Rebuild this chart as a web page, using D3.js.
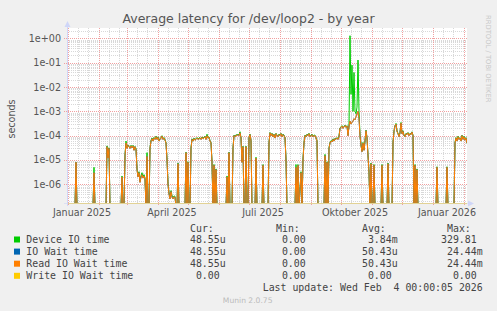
<!DOCTYPE html>
<html><head><meta charset="utf-8">
<script src="https://cdn.jsdelivr.net/npm/d3@7"></script>
<style>
body{margin:0;background:#f0f0f0}
svg{display:block}
text{white-space:pre}
</style></head><body>
<svg id="c" width="497" height="311"></svg>
<script>
// ---------------- data ----------------
const dates = [
"2024-12-31","2025-01-08","2025-01-09","2025-01-10","2025-01-26","2025-01-27","2025-01-28",
"2025-02-08","2025-02-09","2025-02-10","2025-02-11","2025-02-12","2025-02-23","2025-02-24","2025-02-25","2025-02-26","2025-02-27",
"2025-02-28","2025-03-01","2025-03-02","2025-03-03","2025-03-04","2025-03-05","2025-03-06","2025-03-07","2025-03-08","2025-03-09","2025-03-10",
"2025-03-11","2025-03-12","2025-03-13","2025-03-14","2025-03-15","2025-03-16","2025-03-17","2025-03-18","2025-03-19","2025-03-20","2025-03-21","2025-03-22",
"2025-03-23","2025-03-24","2025-03-25","2025-03-26","2025-03-27","2025-03-28","2025-03-29","2025-03-30","2025-03-31",
"2025-04-01","2025-04-02","2025-04-03","2025-04-04","2025-04-05","2025-04-06","2025-04-07","2025-04-08","2025-04-09","2025-04-10",
"2025-04-11","2025-04-12","2025-04-13","2025-04-14","2025-04-15","2025-04-16","2025-04-17","2025-04-18","2025-04-19","2025-04-20","2025-04-21","2025-04-22",
"2025-04-28","2025-04-29","2025-04-30","2025-05-01","2025-05-02","2025-05-03","2025-05-04",
"2025-05-05","2025-05-06","2025-05-07","2025-05-08","2025-05-09","2025-05-10","2025-05-11","2025-05-12","2025-05-13","2025-05-14","2025-05-15","2025-05-16","2025-05-17","2025-05-18","2025-05-19","2025-05-20","2025-05-21","2025-05-22","2025-05-23","2025-05-24",
"2025-05-25","2025-05-26","2025-05-27","2025-05-28","2025-05-29","2025-05-30","2025-06-08","2025-06-09","2025-06-10","2025-06-11","2025-06-12","2025-06-14","2025-06-15",
"2025-06-16","2025-06-17","2025-06-18","2025-06-19","2025-06-20","2025-06-21","2025-06-22","2025-06-23","2025-06-24","2025-06-25","2025-06-26","2025-06-27","2025-06-28","2025-06-29","2025-06-30",
"2025-07-01","2025-07-02","2025-07-03","2025-07-04","2025-07-07","2025-07-08","2025-07-09","2025-07-14","2025-07-15","2025-07-16","2025-07-20","2025-07-21",
"2025-07-22","2025-07-23","2025-07-24","2025-07-25","2025-07-26","2025-07-27","2025-07-28","2025-07-29","2025-07-30","2025-07-31","2025-08-01","2025-08-02","2025-08-03","2025-08-04","2025-08-05","2025-08-06","2025-08-07","2025-08-08",
"2025-08-16","2025-08-17","2025-08-18","2025-08-19","2025-08-20","2025-08-22","2025-08-23","2025-08-24","2025-08-25",
"2025-08-26","2025-08-27","2025-08-28","2025-08-29","2025-08-30","2025-08-31","2025-09-01","2025-09-02","2025-09-03","2025-09-04","2025-09-05","2025-09-06","2025-09-07","2025-09-08",
"2025-09-14","2025-09-15","2025-09-16","2025-09-17","2025-09-18","2025-09-19",
"2025-09-20","2025-09-21","2025-09-22","2025-09-23","2025-09-24","2025-09-25","2025-09-26","2025-09-27","2025-09-28","2025-09-29","2025-09-30",
"2025-10-01","2025-10-02","2025-10-03","2025-10-04","2025-10-05","2025-10-06","2025-10-07","2025-10-08","2025-10-09",
"2025-10-10","2025-10-11","2025-10-12","2025-10-13","2025-10-14","2025-10-15","2025-10-16","2025-10-17","2025-10-18","2025-10-19",
"2025-10-20","2025-10-21","2025-10-22","2025-10-23","2025-10-24","2025-10-25","2025-10-26","2025-10-27","2025-10-28","2025-10-29","2025-10-30","2025-10-31",
"2025-11-01","2025-11-02","2025-11-03","2025-11-04","2025-11-10","2025-11-11","2025-11-12","2025-11-16","2025-11-17","2025-11-18","2025-11-21",
"2025-11-22","2025-11-23","2025-11-24","2025-11-25","2025-11-26","2025-11-27","2025-11-28","2025-11-29","2025-11-30",
"2025-12-01","2025-12-02","2025-12-03","2025-12-04","2025-12-05","2025-12-06","2025-12-07","2025-12-08","2025-12-09","2025-12-10","2025-12-11","2025-12-12","2025-12-13","2025-12-14","2025-12-15","2025-12-16","2025-12-17",
"2026-01-04","2026-01-05","2026-01-06","2026-01-14","2026-01-15","2026-01-16","2026-01-22",
"2026-01-23","2026-01-24","2026-01-25","2026-01-26","2026-01-27","2026-01-28","2026-01-29","2026-01-30","2026-01-31","2026-02-01","2026-02-02","2026-02-03","2026-02-04"
];

const readWait = [
0,0,8e-6,0,0,3e-6,0,
0,3.5e-5,1.2e-5,3e-5,0,0,2e-6,0,0,1.5e-5,
5e-5,3e-5,4e-5,3.5e-5,3e-5,3.8e-5,3.2e-5,3.8e-5,2.5e-5,3.5e-5,2.8e-5,
4e-6,2e-6,3e-6,1.2e-6,2e-6,2.5e-6,1.8e-6,2.2e-6,1.6e-6,0,1.4e-5,0,
0,3e-5,6e-5,7.5e-5,6e-5,8e-5,7e-5,9e-5,7e-5,
8.5e-5,6e-5,7e-5,8e-5,9.5e-5,7e-5,8e-5,6.5e-5,5e-5,1e-5,
1e-6,4e-7,2.5e-7,5e-7,3e-7,2.5e-7,3e-7,3e-7,0,0,7e-6,0,
0,2e-5,0,8e-6,0,0,3e-5,
7e-5,6e-5,7.5e-5,6.5e-5,7e-5,8e-5,7e-5,7.5e-5,8e-5,7e-5,8.5e-5,7.5e-5,8e-5,9e-5,7e-5,1e-4,8e-5,8.5e-5,6e-5,5e-5,
8e-6,0,6e-6,0,4e-6,0,0,2e-6,0,2e-5,0,0,3e-5,
1e-4,9e-5,1.05e-4,1e-4,1.1e-4,1e-4,1.3e-4,8e-5,8e-6,3.5e-5,0,0,3.5e-5,0,0,
8e-5,1.1e-4,6e-5,0,0,1.2e-5,0,0,6e-6,0,0,5e-5,
1.3e-4,1e-4,1.2e-4,9e-5,1.1e-4,8e-5,1.2e-4,1e-4,9e-5,1.1e-4,1e-4,1.2e-4,9e-5,1.1e-4,1e-4,8e-5,1e-5,0,
0,5e-6,0,6e-6,0,3e-6,0,1e-5,5e-5,
1e-4,9e-5,1.1e-4,1e-4,1.2e-4,9e-5,1e-4,1.1e-4,9e-5,1e-4,1e-4,8e-5,6e-5,0,
0,1.5e-5,0,8e-6,0,3e-5,
5e-5,6e-5,5.5e-5,7e-5,6e-5,7.5e-5,7e-5,8e-5,7e-5,9e-5,2e-4,
2.2e-4,2.5e-4,2e-4,2.3e-4,2.6e-4,2.2e-4,2.5e-4,1e-4,2.5e-4,
4e-4,3e-4,3.5e-4,4e-4,5e-4,4.5e-4,6e-4,8e-4,1e-3,5e-4,
1e-4,4e-5,2.2e-5,5e-5,2.5e-5,6e-5,1.6e-4,8e-5,1.5e-5,3e-6,0,7e-6,
0,0,6e-6,0,0,6e-6,0,0,7e-6,0,0,
5e-5,1.5e-4,2.5e-4,3e-4,1.5e-4,1.2e-4,9e-5,1.3e-4,3.3e-4,
1.2e-4,1.5e-4,1e-4,9e-5,1.2e-4,1.1e-4,1.3e-4,1e-4,1.2e-4,1.1e-4,1.4e-4,1e-4,0,6e-6,0,4e-6,0,
0,5e-6,0,0,5e-6,0,0,
5e-5,8e-5,6e-5,9e-5,7e-5,8e-5,6e-5,1e-4,7e-5,9e-5,6.5e-5,8e-5,4.855e-5
];

const ioWait = [
0,0,8e-6,0,0,3e-6,0,
0,3.5e-5,1.2e-5,3e-5,0,0,2e-6,0,0,1.5e-5,
5e-5,3e-5,4e-5,3.5e-5,3e-5,3.8e-5,3.2e-5,3.8e-5,2.5e-5,3.5e-5,2.8e-5,
4e-6,2e-6,3e-6,1.2e-6,2e-6,2.5e-6,1.8e-6,2.2e-6,1.6e-6,0,1.4e-5,0,
0,3e-5,6e-5,7.5e-5,6e-5,8e-5,7e-5,9e-5,7e-5,
8.5e-5,6e-5,7e-5,8e-5,9.5e-5,7e-5,8e-5,6.5e-5,5e-5,1e-5,
1e-6,4e-7,2.5e-7,5e-7,3e-7,2.5e-7,3e-7,3e-7,0,0,7e-6,0,
0,2e-5,0,8e-6,0,0,3e-5,
7e-5,6e-5,7.5e-5,6.5e-5,7e-5,8e-5,7e-5,7.5e-5,8e-5,7e-5,8.5e-5,7.5e-5,8e-5,9e-5,7e-5,1e-4,8e-5,8.5e-5,6e-5,5e-5,
8e-6,0,6e-6,0,4e-6,0,0,2e-6,0,2e-5,0,0,3e-5,
1e-4,9e-5,1.05e-4,1e-4,1.1e-4,1e-4,1.3e-4,8e-5,8e-6,3.5e-5,0,0,3.5e-5,0,0,
8e-5,1.1e-4,6e-5,0,0,1.2e-5,0,0,6e-6,0,0,5e-5,
1.3e-4,1e-4,1.2e-4,9e-5,1.1e-4,8e-5,1.2e-4,1e-4,9e-5,1.1e-4,1e-4,1.2e-4,9e-5,1.1e-4,1e-4,8e-5,1e-5,0,
0,5e-6,0,6e-6,0,3e-6,0,1e-5,5e-5,
1e-4,9e-5,1.1e-4,1e-4,1.2e-4,9e-5,1e-4,1.1e-4,9e-5,1e-4,1e-4,8e-5,6e-5,0,
0,1.5e-5,0,8e-6,0,3e-5,
5e-5,6e-5,5.5e-5,7e-5,6e-5,7.5e-5,7e-5,8e-5,7e-5,9e-5,2e-4,
2.2e-4,2.5e-4,2e-4,2.3e-4,2.6e-4,2.2e-4,2.5e-4,1e-4,2.5e-4,
4e-4,3e-4,3.5e-4,4e-4,5e-4,4.5e-4,6e-4,8e-4,1e-3,5e-4,
1e-4,4e-5,2.2e-5,5e-5,2.5e-5,6e-5,1.6e-4,8e-5,1.5e-5,3e-6,0,7e-6,
0,0,6e-6,0,0,6e-6,0,0,7e-6,0,0,
5e-5,1.5e-4,2.5e-4,3e-4,1.5e-4,1.2e-4,9e-5,1.3e-4,3.3e-4,
1.2e-4,1.5e-4,1e-4,9e-5,1.2e-4,1.1e-4,1.3e-4,1e-4,1.2e-4,1.1e-4,1.4e-4,1e-4,0,6e-6,0,4e-6,0,
0,5e-6,0,0,5e-6,0,0,
5e-5,8e-5,6e-5,9e-5,7e-5,8e-5,6e-5,1e-4,7e-5,9e-5,6.5e-5,8e-5,4.855e-5
];

const device = [
0,0,8e-6,0,0,5e-6,0,
0,3.8e-5,1.3e-5,3.2e-5,0,0,2.2e-6,0,0,1.6e-5,
6e-5,3.2e-5,4.2e-5,3.6e-5,3.1e-5,4e-5,3.3e-5,4e-5,2.6e-5,3.6e-5,3e-5,
4.5e-6,2.2e-6,3.3e-6,1.4e-6,2.3e-6,3e-6,2e-6,2.5e-6,1.8e-6,0,2e-5,0,
0,3.2e-5,6.5e-5,8e-5,6.3e-5,8.5e-5,7.3e-5,9.5e-5,7.4e-5,
9e-5,6.3e-5,7.4e-5,8.4e-5,1e-4,7.3e-5,8.4e-5,6.8e-5,5.3e-5,1.1e-5,
1.1e-6,4.5e-7,3e-7,5.5e-7,3.5e-7,2.8e-7,3.3e-7,3.2e-7,0,0,7.5e-6,0,
0,2.1e-5,0,8.5e-6,0,0,3.2e-5,
7.4e-5,6.3e-5,7.9e-5,6.8e-5,7.4e-5,8.4e-5,7.3e-5,7.9e-5,8.4e-5,7.4e-5,8.9e-5,7.9e-5,8.4e-5,9.5e-5,7.4e-5,1.15e-4,8.4e-5,8.9e-5,6.3e-5,5.3e-5,
8.5e-6,0,6.5e-6,0,4.3e-6,0,0,2.2e-6,0,2.1e-5,0,0,3.2e-5,
1.05e-4,9.5e-5,1.1e-4,1.05e-4,1.15e-4,1.05e-4,1.45e-4,8.4e-5,8.5e-6,3.7e-5,0,0,3.7e-5,0,0,
8.4e-5,1.15e-4,6.3e-5,0,0,1.3e-5,0,0,6.5e-6,0,0,5.3e-5,
1.35e-4,1.05e-4,1.25e-4,9.5e-5,1.15e-4,8.4e-5,1.25e-4,1.05e-4,9.5e-5,1.15e-4,1.05e-4,1.25e-4,9.5e-5,1.15e-4,1.05e-4,8.4e-5,1.1e-5,0,
0,6.5e-6,0,6.5e-6,0,3.3e-6,0,1.1e-5,5.3e-5,
1.05e-4,9.5e-5,1.15e-4,1.05e-4,1.25e-4,9.5e-5,1.05e-4,1.15e-4,9.5e-5,1.05e-4,1.05e-4,8.4e-5,6.3e-5,0,
0,1.7e-5,0,8.5e-6,0,3.2e-5,
5.3e-5,6.3e-5,5.8e-5,7.4e-5,6.3e-5,7.9e-5,7.4e-5,8.4e-5,7.4e-5,9.5e-5,2.1e-4,
2.3e-4,2.6e-4,2.1e-4,2.4e-4,2.7e-4,2.3e-4,2.6e-4,1.05e-4,2.6e-4,
1.3,5e-3,0.08,1e-3,0.04,1e-3,8e-4,1.5e-3,0.13,1e-3,
1.1e-4,4.2e-5,2.3e-5,5.3e-5,2.6e-5,6.3e-5,1.7e-4,8.4e-5,1.6e-5,3.2e-6,0,7.5e-6,
0,0,6.5e-6,0,0,6.5e-6,0,0,7.5e-6,0,0,
5.3e-5,1.6e-4,2.6e-4,3.2e-4,1.6e-4,1.25e-4,9.5e-5,1.35e-4,3.5e-4,
1.25e-4,1.6e-4,1.05e-4,9.5e-5,1.25e-4,1.15e-4,1.35e-4,1.05e-4,1.25e-4,1.15e-4,1.45e-4,1.05e-4,0,6.5e-6,0,4.3e-6,0,
0,5.3e-6,0,0,5.3e-6,0,0,
5.3e-5,8.4e-5,6.3e-5,9.5e-5,7.4e-5,8.4e-5,6.3e-5,1.05e-4,7.4e-5,9.5e-5,6.8e-5,8.4e-5,4.855e-5
];

const writeDates = ["2024-12-31","2026-02-04"];
const writeWait = [0,0];

const yTickValues = [1,1e-1,1e-2,1e-3,1e-4,1e-5,1e-6];
const yTickLabels = ["1e+00","1e-01","1e-02","1e-03","1e-04","1e-05","1e-06"];
const xLabelDates = ["2025-01-15","2025-04-15","2025-07-15","2025-10-15","2026-01-15"];
const xLabels = ["Januar 2025","April 2025","Juli 2025","Oktober 2025","Januar 2026"];

const legendNames = ["Device IO time","IO Wait time","Read IO Wait time","Write IO Wait time"];
const legendColors = ["#00CC00","#0066B3","#FF8000","#FFCC00"];
const curVals = [" 48.55u"," 48.55u"," 48.55u","  0.00"];
const minVals = ["  0.00","  0.00","  0.00","  0.00"];
const avgVals = ["  3.84m"," 50.43u"," 50.43u","  0.00"];
const maxVals = ["329.81"," 24.44m"," 24.44m","  0.00"];

// ---------------- drawing ----------------
const svg = d3.select("#c");
const parse = d3.utcParse("%Y-%m-%d");
const L = 67, R = 467, T = 28, B = 203;
const start = parse("2024-12-31"), end = parse("2026-02-04");
const x = d3.scaleUtc().domain([start, end]).range([L, R]);
const y = d3.scaleLog().domain([1.7e-7, 2.7]).range([B, T]);
const sans = "DejaVu Sans, sans-serif", mono = "DejaVu Sans Mono, monospace";
const crisp = v => Math.round(v) + 0.5;

svg.append("rect").attr("width", 497).attr("height", 311).attr("fill", "#f0f0f0");
svg.append("rect").attr("x", L).attr("y", T).attr("width", R - L).attr("height", B - T).attr("fill", "#ffffff");

// horizontal grid
const allY = y.ticks(100).filter(v => v >= 1.7e-7 && v <= 2.7);
const isMajor = v => Math.abs(Math.log10(v) - Math.round(Math.log10(v))) < 1e-9;
svg.append("g").selectAll("line").data(allY.filter(v => !isMajor(v))).join("line")
  .attr("x1", L).attr("x2", R).attr("y1", d => crisp(y(d))).attr("y2", d => crisp(y(d)))
  .attr("stroke", "#d8d8d8").attr("stroke-dasharray", "1,1");
// vertical minor grid (11th & 21st)
const months = d3.utcMonth.range(d3.utcMonth.floor(start), end);
const minorDays = [];
months.forEach(m => [10, 20].forEach(k => { const d = d3.utcDay.offset(m, k); if (d > start && d < end) minorDays.push(d); }));
svg.append("g").selectAll("line").data(minorDays).join("line")
  .attr("x1", d => crisp(x(d))).attr("x2", d => crisp(x(d))).attr("y1", T).attr("y2", B)
  .attr("stroke", "#d8d8d8").attr("stroke-dasharray", "1,1");
// major grid
svg.append("g").selectAll("line").data(yTickValues).join("line")
  .attr("x1", L - 3).attr("x2", R).attr("y1", d => crisp(y(d))).attr("y2", d => crisp(y(d)))
  .attr("stroke", "#f0a0a0").attr("stroke-dasharray", "1,1");
const majorMonths = months.filter(m => m >= start && m < end);
svg.append("g").selectAll("line").data(majorMonths).join("line")
  .attr("x1", d => crisp(x(d))).attr("x2", d => crisp(x(d))).attr("y1", T).attr("y2", B + 3)
  .attr("stroke", "#f0a0a0").attr("stroke-dasharray", "1,1");

// series
svg.append("clipPath").attr("id", "clip").append("rect")
  .attr("x", L).attr("y", T - 2).attr("width", R - L).attr("height", B - T + 2);
const line = d3.line().x(d => x(d[0])).y(d => d[1] > 0 ? y(d[1]) : B + 4);
const series = [
  [dates, device, legendColors[0]],
  [dates, ioWait, legendColors[1]],
  [dates, readWait, legendColors[2]]
];
const plot = svg.append("g").attr("clip-path", "url(#clip)");
series.forEach(([ds, vs, c]) => {
  plot.append("path").datum(ds.map((d, i) => [parse(d), vs[i]]))
    .attr("d", line).attr("fill", "none").attr("stroke", c).attr("stroke-width", 1);
});
// write IO wait (all zero) sits on the bottom edge
svg.append("path").datum(writeDates.map((d, i) => [parse(d), writeWait[i]]))
  .attr("d", d3.line().x(d => x(d[0])).y(() => B + 0.5)).attr("fill", "none")
  .attr("stroke", legendColors[3]).attr("stroke-width", 1);

// axes
const axisC = "#CFD6F8";
svg.append("line").attr("x1", L + 0.5).attr("x2", L + 0.5).attr("y1", B + 3).attr("y2", 25).attr("stroke", axisC);
svg.append("path").attr("d", `M${L - 2.5},27 L${L + 3.5},27 L${L + 0.5},21 Z`).attr("fill", axisC);
svg.append("line").attr("x1", L - 3).attr("x2", R + 3).attr("y1", B + 0.5).attr("y2", B + 0.5).attr("stroke", axisC).attr("stroke-opacity", 0.6);
svg.append("path").attr("d", `M${R + 1},${B - 2.5} L${R + 1},${B + 3.5} L${R + 7},${B + 0.5} Z`).attr("fill", axisC);

// y labels
svg.append("g").selectAll("text").data(yTickValues).join("text")
  .attr("x", 61).attr("y", d => y(d) + 3.5).attr("text-anchor", "end")
  .attr("font-family", sans).attr("font-size", 9.6).attr("fill", "#555")
  .text((d, i) => yTickLabels[i]);
// x labels
svg.append("g").selectAll("text").data(xLabelDates).join("text")
  .attr("x", d => x(parse(d))).attr("y", 216).attr("text-anchor", "middle")
  .attr("font-family", sans).attr("font-size", 9.6).attr("fill", "#555")
  .text((d, i) => xLabels[i]);

// title & side texts
svg.append("text").attr("x", 248.5).attr("y", 23.4).attr("text-anchor", "middle")
  .attr("font-family", sans).attr("font-size", 12.5).attr("fill", "#555")
  .text("Average latency for /dev/loop2 - by year");
svg.append("text").attr("transform", "translate(15,119) rotate(-90)").attr("text-anchor", "middle")
  .attr("font-family", sans).attr("font-size", 9.6).attr("fill", "#555").text("seconds");
svg.append("text").attr("transform", "translate(485.5,15) rotate(90)").attr("text-anchor", "start")
  .attr("font-family", sans).attr("font-size", 6.8).attr("fill", "#c8c8c8").text("RRDTOOL / TOBI OETIKER");

// legend
const colX = [184, 270, 356, 441];
const heads = ["Cur:", "Min:", "Avg:", "Max:"];
const legC = "#444", fs = 9.9;
heads.forEach((h, i) => svg.append("text").attr("x", colX[i] + 6).attr("y", 232)
  .attr("font-family", mono).attr("font-size", fs).attr("fill", legC).text(h));
const cols = [curVals, minVals, avgVals, maxVals];
legendNames.forEach((n, r) => {
  const by = 243 + r * 12.1;
  svg.append("rect").attr("x", 14).attr("y", by - 6.5).attr("width", 6).attr("height", 6).attr("fill", legendColors[r]);
  svg.append("text").attr("x", 26.3).attr("y", by).attr("font-family", mono).attr("font-size", fs).attr("fill", legC).text(n);
  cols.forEach((c, i) => svg.append("text").attr("x", colX[i]).attr("y", by)
    .attr("font-family", mono).attr("font-size", fs).attr("fill", legC).text(c[r]));
});
svg.append("text").attr("x", 482.7).attr("y", 291).attr("text-anchor", "end")
  .attr("font-family", mono).attr("font-size", fs).attr("fill", legC)
  .text("Last update: Wed Feb  4 00:00:05 2026");
svg.append("text").attr("x", 247.7).attr("y", 302.5).attr("text-anchor", "middle")
  .attr("font-family", sans).attr("font-size", 7.6).attr("fill", "#bbbbbb").text("Munin 2.0.75");
</script>
</body></html>
